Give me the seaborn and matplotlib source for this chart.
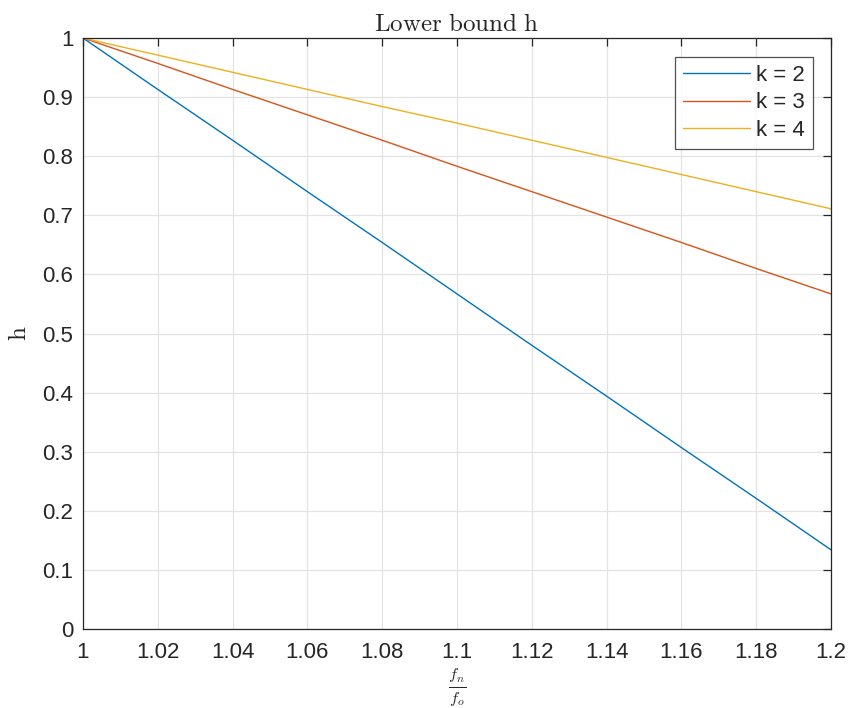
import numpy as np
import pandas as pd
import matplotlib
matplotlib.use("Agg")
import matplotlib.pyplot as plt
import seaborn as sns

x_vals = [1.00, 1.02, 1.04, 1.06, 1.08, 1.10, 1.12, 1.14, 1.16, 1.18, 1.20]
h_k2 = [1.000, 0.913, 0.827, 0.740, 0.654, 0.567, 0.480, 0.394, 0.307, 0.221, 0.134]
h_k3 = [1.000, 0.957, 0.913, 0.870, 0.827, 0.783, 0.740, 0.697, 0.654, 0.610, 0.567]
h_k4 = [1.000, 0.971, 0.942, 0.913, 0.884, 0.856, 0.827, 0.798, 0.769, 0.740, 0.711]
labels = ["k = 2", "k = 3", "k = 4"]
colors = ["#0072BD", "#D95319", "#EDB120"]

df = pd.concat([
    pd.DataFrame({"x": x_vals, "h": h, "k": lab})
    for h, lab in zip([h_k2, h_k3, h_k4], labels)
])

sns.set_theme(style="white")
plt.rcParams["font.family"] = ["Liberation Sans", "DejaVu Sans"]
plt.rcParams["mathtext.fontset"] = "cm"

fig = plt.figure(figsize=(8.48, 7.08), dpi=100)
ax = fig.add_axes([83/848, 1-629/708, (831-83)/848, (629-38)/708])

sns.lineplot(data=df, x="x", y="h", hue="k", palette=colors, ax=ax, linewidth=1.0)

ax.set_xlim(1, 1.2)
ax.set_ylim(0, 1)
ax.set_xticks(np.arange(1.0, 1.2001, 0.02))
ax.set_xticklabels(["1", "1.02", "1.04", "1.06", "1.08", "1.1", "1.12", "1.14", "1.16", "1.18", "1.2"])
ax.set_yticks(np.arange(0, 1.0001, 0.1))
ax.set_yticklabels(["0", "0.1", "0.2", "0.3", "0.4", "0.5", "0.6", "0.7", "0.8", "0.9", "1"])
ax.grid(True, color="#e3e3e3", linewidth=0.9)
ax.set_axisbelow(True)
for s in ax.spines.values():
    s.set_visible(True)
    s.set_color("#262626")
    s.set_linewidth(0.9)
ax.tick_params(axis="both", direction="in", length=6, width=0.9, color="#262626",
               labelsize=16, labelcolor="#262626", top=True, right=True)
ax.tick_params(axis="x", pad=9)
ax.tick_params(axis="y", pad=7)

ax.set_title(r"$\mathrm{Lower\ bound\ h}$", fontsize=18, pad=5)
ax.set_ylabel(r"$\mathrm{h}$", fontsize=18, labelpad=8)
ax.set_xlabel(r"$\frac{f_n}{f_o}$", fontsize=17, labelpad=2)

leg = ax.legend(loc="upper right", bbox_to_anchor=((813-83)/748, (629-57)/591),
                borderaxespad=0, fontsize=16,
                frameon=True, fancybox=False, edgecolor="#262626",
                handlelength=3.0, handletextpad=0.3, borderpad=0.35, labelspacing=0.3)
leg.get_frame().set_linewidth(0.9)
leg.set_title(None)

fig.savefig("out.png", dpi=100)
